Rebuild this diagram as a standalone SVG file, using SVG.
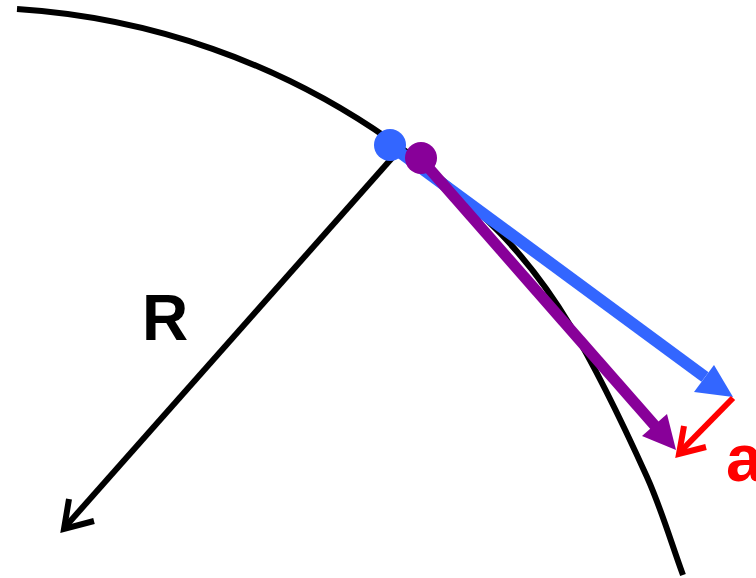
<svg xmlns="http://www.w3.org/2000/svg" width="756" height="578" viewBox="0 0 756 578">
<style>
.blk{stroke:#000;stroke-width:6;fill:none;stroke-linecap:butt}
.lbl{font-family:"Liberation Sans",Arial,sans-serif;font-weight:bold}
</style>
<rect width="756" height="578" fill="#fff"/>
<g id="arc"><path class="blk" d="M17,9 A731.5,731.5 0 0 1 390,140 C429.3,167.6 466.5,198.6 500,233 C526.8,260.6 550.1,292 570,325 C599.3,373.6 623.6,425.3 647,477 C661.3,508.7 671,542.3 683,575"/></g>
<g id="connectors">
  <g id="radius">
    <line class="blk" x1="392" y1="158" x2="66" y2="526"/>
    <polyline class="blk" points="69,499 64,529 94,521"/>
  </g>
  <g id="blue-vec">
    <line x1="390" y1="145" x2="705" y2="377" stroke="#3366ff" stroke-width="12"/>
    <polygon points="733,397 694,392 714,365" fill="#3366ff"/>
  </g>
  <g id="purple-vec">
    <line x1="420" y1="158" x2="656" y2="427" stroke="#880099" stroke-width="11"/>
    <polygon points="676,450 642,436 667,414" fill="#880099"/>
  </g>
  <g id="red-vec">
    <line x1="733" y1="398" x2="680" y2="452" stroke="#ff0000" stroke-width="6"/>
    <polyline points="684,426 679,454 706,447" stroke="#ff0000" stroke-width="6" fill="none"/>
  </g>
</g>
<g id="dot-blue"><circle cx="390" cy="145" r="16" fill="#3366ff"/></g>
<g id="dot-purple"><circle cx="421" cy="158" r="16" fill="#880099"/></g>
<g id="label-R"><text class="lbl" x="142" y="340" font-size="64" fill="#000">R</text></g>
<g id="label-a"><text class="lbl" x="726" y="481" font-size="66" fill="#ff0000">a</text></g>
</svg>
